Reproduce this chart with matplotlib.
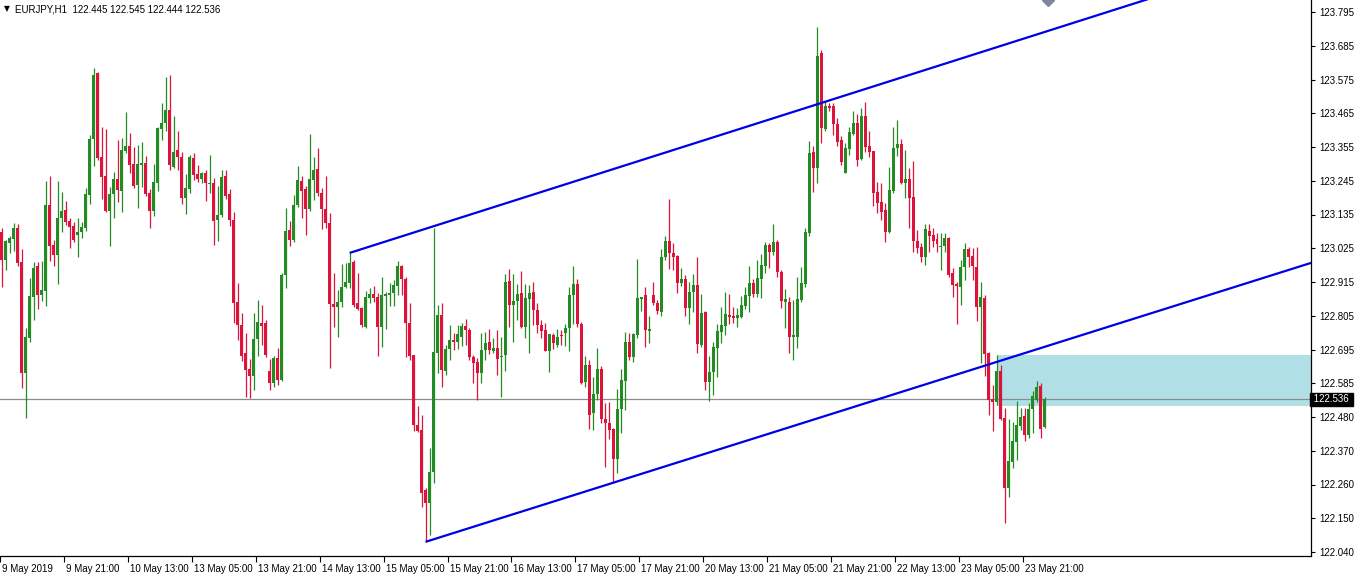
import numpy as np
import matplotlib
matplotlib.use("Agg")
import matplotlib.pyplot as plt
from matplotlib.transforms import ScaledTranslation, blended_transform_factory

# EURJPY H1 candles (one value per bar, left to right)
opens = [
    123.080, 122.989, 123.044, 123.057, 123.093, 122.982, 122.622, 122.735, 122.869, 122.970,
    122.875, 122.888, 123.168, 123.038, 123.005, 123.125, 123.151, 123.116, 123.099, 123.070,
    123.080, 123.093, 123.200, 123.382, 123.597, 123.324, 123.262, 123.148, 123.203, 123.252,
    123.213, 123.343, 123.359, 123.301, 123.233, 123.298, 123.304, 123.207, 123.148, 123.239,
    123.415, 123.434, 123.476, 123.291, 123.346, 123.324, 123.190, 123.220, 123.320, 123.268,
    123.252, 123.272, 123.236, 123.239, 123.119, 123.135, 123.262, 123.203, 123.119, 122.852,
    122.778, 122.687, 122.635, 122.612, 122.732, 122.784, 122.784, 122.628, 122.589, 122.670,
    122.599, 122.940, 123.086, 123.054, 123.168, 123.246, 123.220, 123.155, 123.249, 123.285,
    123.207, 123.155, 123.109, 122.846, 122.836, 122.852, 122.901, 122.914, 122.982, 122.849,
    122.833, 122.771, 122.866, 122.879, 122.869, 122.771, 122.872, 122.875, 122.882, 122.905,
    122.970, 122.927, 122.784, 122.680, 122.453, 122.437, 122.242, 122.199, 122.300, 122.687,
    122.810, 122.628, 122.700, 122.729, 122.722, 122.739, 122.774, 122.761, 122.674, 122.657,
    122.622, 122.696, 122.722, 122.693, 122.703, 122.674, 122.680, 122.921, 122.843, 122.856,
    122.882, 122.771, 122.862, 122.885, 122.827, 122.778, 122.761, 122.693, 122.745, 122.713,
    122.745, 122.752, 122.768, 122.875, 122.911, 122.781, 122.593, 122.648, 122.492, 122.554,
    122.635, 122.472, 122.459, 122.440, 122.342, 122.505, 122.596, 122.722, 122.674, 122.745,
    122.862, 122.875, 122.758, 122.875, 122.849, 122.820, 122.999, 123.051, 123.012, 123.002,
    122.914, 122.927, 122.833, 122.885, 122.908, 122.713, 122.820, 122.593, 122.625, 122.703,
    122.755, 122.774, 122.810, 122.807, 122.800, 122.804, 122.839, 122.872, 122.914, 122.879,
    122.927, 122.970, 123.038, 123.015, 123.047, 122.950, 122.852, 122.852, 122.739, 122.739,
    122.859, 122.911, 123.077, 123.340, 123.288, 123.662, 123.415, 123.490, 123.490, 123.431,
    123.379, 123.272, 123.350, 123.398, 123.434, 123.317, 123.457, 123.359, 123.343, 123.210,
    123.177, 123.151, 123.080, 123.213, 123.353, 123.366, 123.239, 123.252, 123.194, 123.051,
    123.031, 122.999, 123.083, 123.070, 123.057, 123.031, 123.034, 123.060, 122.947, 122.911,
    122.901, 122.966, 123.025, 123.002, 122.966, 122.836, 122.866, 122.687, 122.537, 122.528,
    122.628, 122.475, 122.248, 122.333, 122.398, 122.450, 122.482, 122.420, 122.505, 122.534,
    122.580, 122.445,
]
highs = [
    123.093, 123.054, 123.067, 123.109, 123.106, 123.025, 122.768, 122.930, 122.982, 122.982,
    122.986, 123.246, 123.262, 123.054, 123.246, 123.210, 123.181, 123.125, 123.112, 123.125,
    123.112, 123.223, 123.395, 123.613, 123.600, 123.421, 123.415, 123.226, 123.275, 123.379,
    123.385, 123.470, 123.402, 123.356, 123.363, 123.372, 123.327, 123.220, 123.301, 123.421,
    123.499, 123.584, 123.590, 123.457, 123.408, 123.340, 123.268, 123.330, 123.337, 123.298,
    123.275, 123.281, 123.330, 123.256, 123.229, 123.281, 123.281, 123.220, 123.145, 122.914,
    122.817, 122.752, 122.667, 122.817, 122.859, 122.843, 122.794, 122.667, 122.677, 122.703,
    122.947, 123.158, 123.116, 123.200, 123.294, 123.262, 123.229, 123.398, 123.324, 123.353,
    123.223, 123.262, 123.142, 122.947, 122.891, 122.976, 122.979, 123.012, 122.989, 122.947,
    122.836, 122.888, 122.898, 122.905, 122.882, 122.934, 122.885, 122.914, 122.924, 122.986,
    122.973, 122.934, 122.849, 122.680, 122.515, 122.485, 122.248, 122.378, 123.093, 122.843,
    122.849, 122.713, 122.778, 122.752, 122.778, 122.784, 122.797, 122.768, 122.680, 122.670,
    122.752, 122.755, 122.765, 122.735, 122.761, 122.739, 122.943, 122.960, 122.943, 122.911,
    122.953, 122.911, 122.908, 122.918, 122.849, 122.794, 122.784, 122.748, 122.752, 122.765,
    122.761, 122.781, 122.901, 122.970, 122.927, 122.787, 122.677, 122.664, 122.609, 122.703,
    122.645, 122.524, 122.528, 122.443, 122.570, 122.635, 122.755, 122.752, 122.752, 122.992,
    122.869, 122.901, 122.807, 122.918, 122.859, 123.025, 123.067, 123.187, 123.044, 123.005,
    122.963, 122.940, 122.918, 122.943, 122.999, 122.879, 122.823, 122.677, 122.722, 122.781,
    122.836, 122.885, 122.879, 122.836, 122.833, 122.872, 122.901, 122.970, 122.927, 122.989,
    123.008, 123.047, 123.044, 123.106, 123.054, 122.957, 122.895, 122.869, 122.859, 122.934,
    122.966, 123.093, 123.376, 123.359, 123.746, 123.672, 123.506, 123.499, 123.499, 123.451,
    123.392, 123.369, 123.421, 123.473, 123.464, 123.483, 123.502, 123.408, 123.343, 123.242,
    123.239, 123.174, 123.291, 123.421, 123.444, 123.382, 123.346, 123.288, 123.311, 123.086,
    123.044, 123.106, 123.106, 123.093, 123.077, 123.077, 123.077, 123.064, 122.963, 122.918,
    122.989, 123.044, 123.031, 123.028, 123.031, 122.918, 122.875, 122.690, 122.583, 122.680,
    122.648, 122.508, 122.472, 122.463, 122.531, 122.508, 122.508, 122.524, 122.563, 122.596,
    122.589, 122.545,
]
lows = [
    122.901, 122.957, 123.012, 123.018, 122.970, 122.573, 122.475, 122.722, 122.794, 122.830,
    122.856, 122.839, 122.986, 122.970, 122.911, 123.080, 123.103, 123.028, 123.047, 122.999,
    123.060, 123.083, 123.171, 123.294, 123.314, 123.187, 123.145, 123.034, 123.125, 123.177,
    123.145, 123.337, 123.272, 123.223, 123.158, 123.226, 123.197, 123.093, 123.132, 123.213,
    123.379, 123.408, 123.281, 123.288, 123.281, 123.171, 123.138, 123.207, 123.249, 123.242,
    123.239, 123.181, 123.207, 123.038, 123.051, 123.129, 123.187, 123.099, 122.784, 122.729,
    122.661, 122.544, 122.540, 122.566, 122.677, 122.713, 122.674, 122.566, 122.576, 122.583,
    122.596, 122.898, 123.034, 123.047, 123.161, 123.125, 123.070, 123.148, 123.184, 123.197,
    123.090, 123.093, 122.638, 122.771, 122.739, 122.836, 122.898, 122.898, 122.836, 122.827,
    122.771, 122.768, 122.849, 122.852, 122.677, 122.706, 122.765, 122.839, 122.839, 122.875,
    122.875, 122.674, 122.664, 122.433, 122.430, 122.186, 122.073, 122.095, 122.264, 122.622,
    122.576, 122.615, 122.664, 122.696, 122.700, 122.710, 122.713, 122.664, 122.589, 122.534,
    122.589, 122.664, 122.683, 122.687, 122.615, 122.544, 122.628, 122.771, 122.722, 122.794,
    122.768, 122.735, 122.687, 122.778, 122.752, 122.735, 122.693, 122.625, 122.700, 122.706,
    122.713, 122.710, 122.693, 122.781, 122.771, 122.586, 122.576, 122.440, 122.437, 122.534,
    122.459, 122.316, 122.407, 122.264, 122.297, 122.427, 122.501, 122.664, 122.657, 122.735,
    122.823, 122.706, 122.719, 122.843, 122.813, 122.807, 122.989, 122.960, 122.957, 122.882,
    122.905, 122.807, 122.781, 122.820, 122.687, 122.706, 122.566, 122.531, 122.550, 122.609,
    122.719, 122.745, 122.781, 122.784, 122.771, 122.800, 122.830, 122.820, 122.869, 122.869,
    122.866, 122.947, 122.963, 123.005, 122.934, 122.833, 122.768, 122.687, 122.664, 122.703,
    122.852, 122.901, 123.067, 123.210, 123.239, 123.369, 123.408, 123.473, 123.395, 123.359,
    123.298, 123.272, 123.330, 123.395, 123.294, 123.314, 123.340, 123.324, 123.164, 123.142,
    123.119, 123.047, 123.077, 123.207, 123.327, 123.236, 123.190, 123.093, 123.015, 123.012,
    122.982, 122.973, 123.015, 123.031, 123.015, 122.957, 123.015, 122.934, 122.869, 122.781,
    122.843, 122.924, 122.966, 122.924, 122.791, 122.654, 122.612, 122.485, 122.433, 122.518,
    122.469, 122.134, 122.219, 122.313, 122.339, 122.437, 122.401, 122.411, 122.427, 122.528,
    122.411, 122.444,
]
closes = [
    122.989, 123.051, 123.060, 123.093, 122.979, 122.622, 122.739, 122.872, 122.963, 122.875,
    122.891, 123.168, 123.034, 123.005, 123.125, 123.148, 123.112, 123.096, 123.054, 123.080,
    123.096, 123.203, 123.382, 123.590, 123.320, 123.259, 123.148, 123.203, 123.252, 123.216,
    123.346, 123.359, 123.298, 123.229, 123.301, 123.304, 123.203, 123.148, 123.242, 123.418,
    123.434, 123.476, 123.298, 123.340, 123.324, 123.190, 123.223, 123.324, 123.265, 123.252,
    123.272, 123.239, 123.239, 123.116, 123.135, 123.259, 123.197, 123.119, 122.849, 122.778,
    122.677, 122.631, 122.612, 122.732, 122.787, 122.774, 122.680, 122.589, 122.670, 122.599,
    122.940, 123.083, 123.054, 123.168, 123.249, 123.213, 123.155, 123.252, 123.281, 123.207,
    123.155, 123.109, 122.846, 122.836, 122.852, 122.901, 122.918, 122.979, 122.843, 122.830,
    122.778, 122.869, 122.879, 122.866, 122.771, 122.875, 122.879, 122.882, 122.908, 122.970,
    122.927, 122.784, 122.677, 122.453, 122.433, 122.232, 122.199, 122.300, 122.690, 122.810,
    122.631, 122.700, 122.729, 122.722, 122.748, 122.774, 122.761, 122.674, 122.654, 122.622,
    122.696, 122.719, 122.696, 122.703, 122.667, 122.677, 122.918, 122.843, 122.856, 122.879,
    122.771, 122.866, 122.882, 122.827, 122.778, 122.758, 122.693, 122.748, 122.719, 122.739,
    122.742, 122.768, 122.875, 122.911, 122.781, 122.589, 122.648, 122.485, 122.554, 122.635,
    122.472, 122.459, 122.437, 122.342, 122.505, 122.599, 122.722, 122.674, 122.748, 122.866,
    122.869, 122.761, 122.765, 122.849, 122.823, 122.999, 123.051, 123.012, 122.999, 122.914,
    122.927, 122.833, 122.885, 122.908, 122.716, 122.817, 122.593, 122.625, 122.706, 122.758,
    122.778, 122.813, 122.804, 122.800, 122.810, 122.843, 122.875, 122.914, 122.879, 122.930,
    122.973, 123.038, 123.015, 123.047, 122.950, 122.856, 122.862, 122.739, 122.745, 122.862,
    122.914, 123.080, 123.337, 123.288, 123.652, 123.418, 123.490, 123.483, 123.431, 123.372,
    123.308, 123.353, 123.405, 123.434, 123.314, 123.457, 123.356, 123.340, 123.207, 123.174,
    123.145, 123.080, 123.216, 123.353, 123.366, 123.239, 123.252, 123.190, 123.051, 123.028,
    122.999, 123.090, 123.067, 123.051, 123.041, 123.034, 123.060, 122.940, 122.908, 122.905,
    122.966, 123.025, 122.999, 122.970, 122.836, 122.869, 122.683, 122.534, 122.528, 122.628,
    122.472, 122.248, 122.336, 122.401, 122.453, 122.479, 122.420, 122.505, 122.547, 122.576,
    122.440, 122.536,
]

date_labels = ["9 May 2019", "9 May 21:00", "10 May 13:00", "13 May 05:00", "13 May 21:00",
               "14 May 13:00", "15 May 05:00", "15 May 21:00", "16 May 13:00", "17 May 05:00",
               "17 May 21:00", "20 May 13:00", "21 May 05:00", "21 May 21:00", "22 May 13:00",
               "23 May 05:00", "23 May 21:00"]
price_labels = ["122.040", "122.150", "122.260", "122.370", "122.480", "122.585", "122.695",
                "122.805", "122.915", "123.025", "123.135", "123.245", "123.355", "123.465",
                "123.575", "123.685", "123.795"]

# channel anchors (bar index, price) and the zone
upper_line = [(87, 123.012), (204, 123.495)]
lower_line = [(106, 122.073), (249, 122.658)]
zone_start, zone_low, zone_high = 248.9, 122.515, 122.680
last_price = 122.536

BULL = "#228b22"
BEAR = "#dc143c"

o = np.array(opens); h = np.array(highs); l = np.array(lows); c = np.array(closes)
x = np.arange(len(o))
up = c >= o
cols = np.where(up, BULL, BEAR)

fig = plt.figure(figsize=(13.58, 5.76), dpi=100)
ax = fig.add_axes([0, 20 / 576, 1311 / 1358, 556 / 576])
xmax = 327.6
ax.set_xlim(-0.175, xmax)
ax.set_ylim(122.027, 123.834)

# zone and price line under the candles
ax.fill_between([zone_start, xmax + 5], zone_low, zone_high, color="#b0e0e6", lw=0, zorder=1)
ax.axhline(last_price, color="#8c8c8c", lw=0.9, zorder=2)

ax.vlines(x, l, h, colors=cols, lw=0.9, zorder=3)
body_lo = np.minimum(o, c)
body_h = np.maximum(np.abs(c - o), 0.002)
ax.bar(x, body_h, bottom=body_lo, width=0.75, color=cols, lw=0, zorder=4)

for (x0, y0), (x1, y1) in (upper_line, lower_line):
    k = (y1 - y0) / (x1 - x0)
    ax.plot([x0, xmax], [y0, y0 + k * (xmax - x0)], color="#0000e6", lw=1.6,
            zorder=5, solid_capstyle="butt")

# partly visible object marker at the top edge
ax.plot([261.8], [123.834], marker="D", ms=6, color="#7d8799", zorder=6, clip_on=True)

for s in ("left", "top"):
    ax.spines[s].set_visible(False)
for s in ("right", "bottom"):
    ax.spines[s].set_linewidth(0.9)

ax.yaxis.tick_right()
ticks_y = np.linspace(122.040, 123.795, len(price_labels))
ax.set_yticks(ticks_y)
ax.set_yticklabels(price_labels, fontsize=7, family="Liberation Sans")
ax.tick_params(axis="y", direction="out", length=3, width=0.8, pad=3)

ticks_x = np.arange(len(date_labels)) * 16 - 0.5
ax.set_xticks(ticks_x)
ax.set_xticklabels(date_labels, fontsize=7, family="Liberation Sans", ha="left")
ax.tick_params(axis="x", direction="out", length=4, width=0.8, pad=2)
off = ScaledTranslation(2 / 100, 0, fig.dpi_scale_trans)
for lab in ax.get_xticklabels():
    lab.set_transform(lab.get_transform() + off)

# current price tag
tr = blended_transform_factory(ax.transAxes, ax.transData)
ax.text(1.0, last_price, " 122.536 ", transform=tr, fontsize=7, family="Liberation Sans",
        color="white", va="center", ha="left", zorder=10,
        bbox=dict(boxstyle="square,pad=0.15", fc="black", ec="black"))

fig.text(4 / 1358, 1 - 9 / 576, "\u25bc", fontsize=5.5, family="DejaVu Sans", va="center")
fig.text(15 / 1358, 1 - 9 / 576, "EURJPY,H1  122.445 122.545 122.444 122.536",
         fontsize=7, family="Liberation Sans", va="center")

fig.savefig("out.png", dpi=100, facecolor="white")
